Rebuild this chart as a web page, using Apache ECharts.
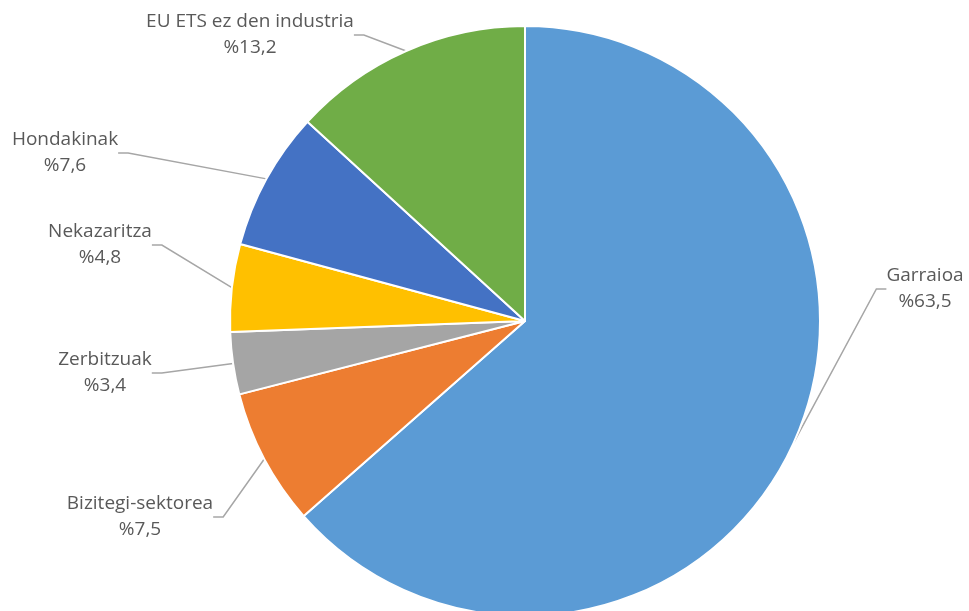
<!DOCTYPE html>
<html>
<head>
<meta charset="utf-8">
<script src="https://cdn.jsdelivr.net/npm/echarts@6/dist/echarts.min.js"></script>
<style>
  html, body { margin: 0; padding: 0; background: #fff; }
  #chart { width: 969px; height: 611px; }
</style>
</head>
<body>
<div id="chart"></div>
<script>
const categories = ['Garraioa', 'Bizitegi-sektorea', 'Zerbitzuak', 'Nekazaritza', 'Hondakinak', 'EU ETS ez den industria']
const values = [63.5, 7.5, 3.4, 4.8, 7.6, 13.2]
const colors = ['#5b9bd5', '#ed7d31', '#a5a5a5', '#ffc000', '#4472c4', '#70ad47']

// where each label sits (text centre), same order as categories
const labelPos = [
    [925, 289], [140, 517], [105, 373], [100, 245], [65, 153], [250, 35]
]

const chart = echarts.init(document.getElementById('chart'))

chart.setOption({
    animation: false,
    series: [{
        type: 'pie',
        center: [525, 321],
        radius: 295,
        startAngle: 90,
        clockwise: true,
        data: categories.map((name, i) => ({
            name,
            value: values[i],
            itemStyle: { color: colors[i] }
        })),
        itemStyle: {
            borderColor: '#fff',
            borderWidth: 2
        },
        label: {
            show: true,
            position: 'outside',
            formatter: p => p.name + '\n%' + p.value.toFixed(1).replace('.', ','),
            color: '#595959',
            fontFamily: 'Open Sans',
            fontSize: 19,
            lineHeight: 26,
            align: 'center'
        },
        labelLine: {
            show: true,
            length: 10,
            length2: 10,
            lineStyle: { color: '#a6a6a6', width: 1.5 }
        },
        labelLayout: params => {
            const pos = labelPos[params.dataIndex]
            return {
                x: pos[0],
                y: pos[1],
                align: 'center',
                verticalAlign: 'middle'
            }
        }
    }]
})
</script>
</body>
</html>
